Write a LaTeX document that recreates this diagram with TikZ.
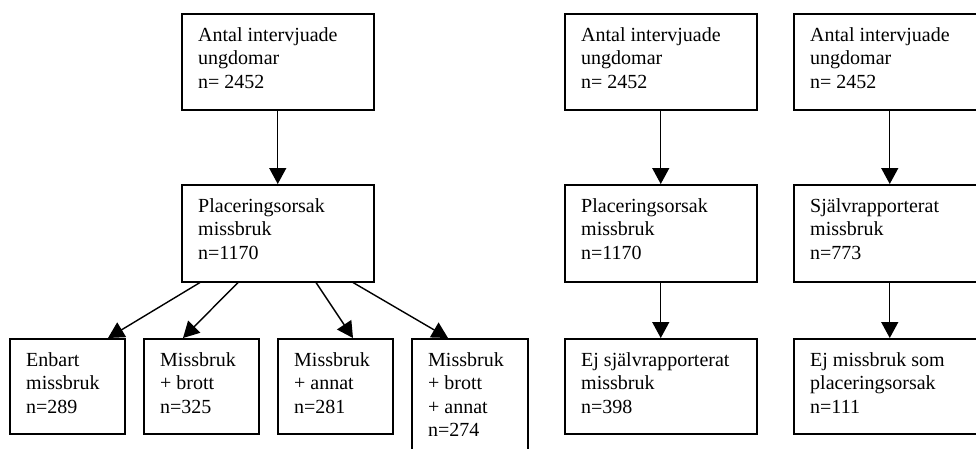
\documentclass[tikz,border=0pt]{standalone}
\usepackage{fontspec}
\setmainfont{Liberation Serif}
\usetikzlibrary{arrows.meta}
\tikzset{
  box/.style={draw=black, line width=1.5pt, inner sep=0pt, anchor=north west, minimum height=96pt},
  txt/.style={inner sep=0pt, anchor=north west, align=left, font={\fontsize{20}{23.5}\selectfont}},
  arr/.style={line width=1.4pt, -{Triangle[length=16pt,width=17pt]}}
}
\begin{document}
\begin{tikzpicture}[x=1pt,y=-1pt]
\useasboundingbox (0,0) rectangle (976,448);
\clip (0,0) rectangle (976,448);
% left tree
\node[box, minimum width=192pt] (b1) at (181,13) {};
\node[box, minimum width=192pt, minimum height=97pt] (b2) at (181,184) {};
\node[box, minimum width=115pt, minimum height=95pt] (ba) at (9,338) {};
\node[box, minimum width=115pt, minimum height=95pt] (bb) at (143,338) {};
\node[box, minimum width=115pt, minimum height=95pt] (bc) at (277,338) {};
\node[box, minimum width=116pt, minimum height=140pt] (bd) at (411,338) {};
% middle column
\node[box, minimum width=192pt] (e1) at (564,13) {};
\node[box, minimum width=192pt, minimum height=97pt] (e2) at (564,184) {};
\node[box, minimum width=192pt, minimum height=95pt] (e3) at (564,338) {};
% right column
\node[box, minimum width=192pt] (f1) at (793,13) {};
\node[box, minimum width=192pt, minimum height=97pt] (f2) at (793,184) {};
\node[box, minimum width=192pt, minimum height=95pt] (f3) at (793,338) {};
% texts
\node[txt] (t1) at ([xshift=17pt,yshift=-14pt]b1.north west) {Antal intervjuade\\ungdomar\\n= 2452};
\node[txt] (t2) at ([xshift=17pt,yshift=-14pt]b2.north west) {Placeringsorsak\\missbruk\\n=1170};
\node[txt] (ta) at ([xshift=17pt,yshift=-14pt]ba.north west) {Enbart\\missbruk\\n=289};
\node[txt] (tb) at ([xshift=17pt,yshift=-14pt]bb.north west) {Missbruk\\+ brott\\n=325};
\node[txt] (tc) at ([xshift=17pt,yshift=-14pt]bc.north west) {Missbruk\\+ annat\\n=281};
\node[txt] (td) at ([xshift=17pt,yshift=-14pt]bd.north west) {Missbruk\\+ brott\\+ annat\\n=274};
\node[txt] (te1) at ([xshift=17pt,yshift=-14pt]e1.north west) {Antal intervjuade\\ungdomar\\n= 2452};
\node[txt] (te2) at ([xshift=17pt,yshift=-14pt]e2.north west) {Placeringsorsak\\missbruk\\n=1170};
\node[txt] (te3) at ([xshift=17pt,yshift=-14pt]e3.north west) {Ej självrapporterat\\missbruk\\n=398};
\node[txt] (tf1) at ([xshift=17pt,yshift=-14pt]f1.north west) {Antal intervjuade\\ungdomar\\n= 2452};
\node[txt] (tf2) at ([xshift=17pt,yshift=-14pt]f2.north west) {Självrapporterat\\missbruk\\n=773};
\node[txt] (tf3) at ([xshift=17pt,yshift=-14pt]f3.north west) {Ej missbruk som\\placeringsorsak\\n=111};
% arrows
\draw[arr] (b1.south) -- (b2.north);
\draw[arr] ([xshift=19pt]b2.south west) -- ([xshift=99pt]ba.north west);
\draw[arr] ([xshift=57pt]b2.south west) -- ([xshift=40pt]bb.north west);
\draw[arr] ([xshift=135pt]b2.south west) -- ([xshift=76pt]bc.north west);
\draw[arr] ([xshift=172pt]b2.south west) -- ([xshift=37pt]bd.north west);
\draw[arr] (e1.south) -- (e2.north);
\draw[arr] (e2.south) -- (e3.north);
\draw[arr] (f1.south) -- (f2.north);
\draw[arr] (f2.south) -- (f3.north);
\end{tikzpicture}
\end{document}
